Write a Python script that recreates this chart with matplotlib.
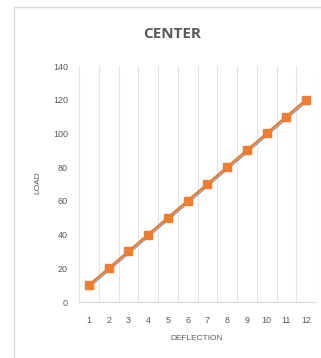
import matplotlib
matplotlib.use("Agg")
import matplotlib.pyplot as plt
import matplotlib.transforms as mtransforms
from matplotlib.patches import Rectangle
import numpy as np

# data
deflection = list(range(1, 13))
load = [10, 20, 30, 40, 50, 60, 70, 80, 90, 100, 110, 120]

plt.rcParams['font.family'] = ['Liberation Sans', 'DejaVu Sans']

fig = plt.figure(figsize=(3.21, 3.58), dpi=100)
fig.patch.set_facecolor("white")

# chart frame (runs off the right and bottom edges)
fig.patches.append(Rectangle((14 / 321, -0.05), 1.0, 1 - 7 / 358 + 0.05,
                             transform=fig.transFigure, fill=False,
                             edgecolor="#d9d9d9", linewidth=1.0))

ax = fig.add_axes([79 / 321, 1 - 302 / 358, (316 - 79) / 321, (302 - 66) / 358])

# linear trend drawn first, nudged slightly so it peeks out under the series
coef = np.polyfit(deflection, load, 1)
trend = np.polyval(coef, deflection)
shift = mtransforms.offset_copy(ax.transData, fig=fig, x=1.0, y=-1.0, units="points")
ax.plot(deflection, trend, color="#5b9bd5", linewidth=0.8, transform=shift, zorder=2)

ax.plot(deflection, load, color="#ed7d31", linewidth=1.8, marker="s",
        markersize=5.5, zorder=3)

ax.set_xlim(0.5, 12.5)
ax.set_ylim(0, 140)
ax.set_yticks(range(0, 141, 20))
ax.set_xticks(deflection)

# vertical gridlines between categories
for b in np.arange(0.5, 13, 1):
    ax.axvline(b, color="#e3e3e3", linewidth=0.8, zorder=1)

for s in ["top", "right", "left"]:
    ax.spines[s].set_visible(False)
ax.spines["bottom"].set_color("#d9d9d9")
ax.spines["bottom"].set_linewidth(0.8)

ax.tick_params(axis="both", length=0, labelsize=6.5, labelcolor="#595959")
ax.tick_params(axis="y", pad=8)
ax.tick_params(axis="x", pad=10)

fig.text(172 / 321, 1 - 34 / 358, "CENTER", ha="center", va="center",
         fontsize=11, fontweight="bold", color="#595959", family="Open Sans")
fig.text(38 / 321, 1 - 183 / 358, "LOAD", ha="center", va="center",
         rotation=90, fontsize=6, color="#595959")
fig.text(197 / 321, 1 - 338 / 358, "DEFLECTION", ha="center", va="center",
         fontsize=6, color="#595959")

fig.savefig("out.png", dpi=100)
